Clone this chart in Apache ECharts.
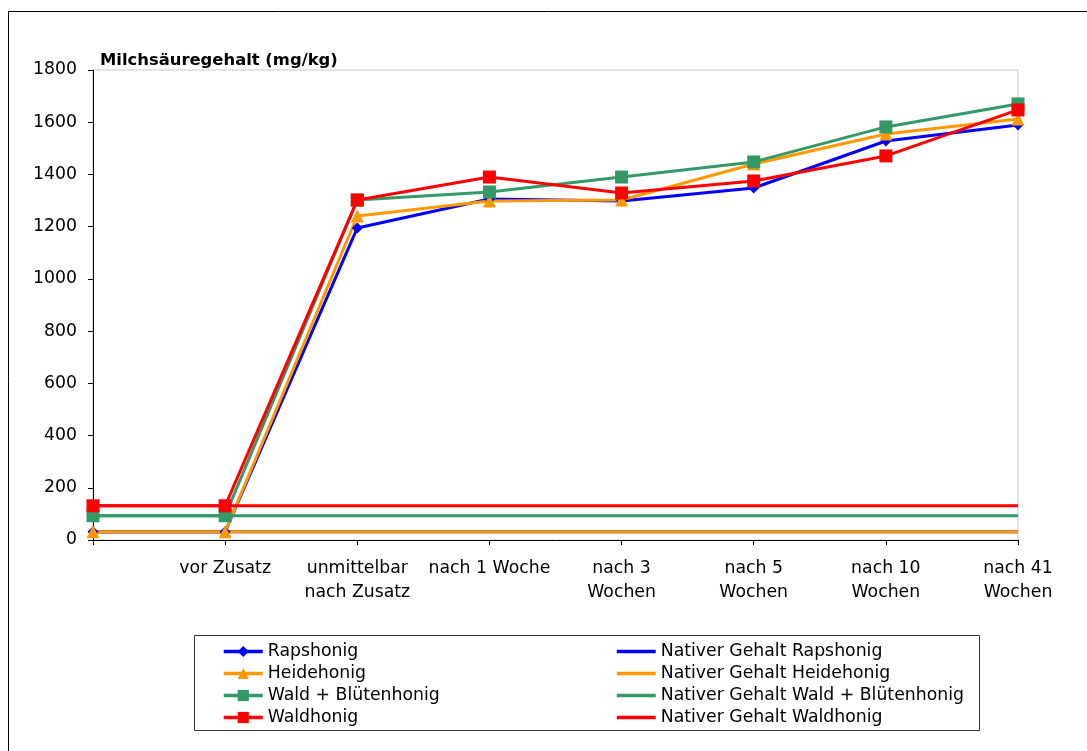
<!DOCTYPE html>
<html>
<head>
<meta charset="utf-8">
<script src="https://cdn.jsdelivr.net/npm/echarts@6/dist/echarts.min.js"></script>
<style>
  html, body { margin: 0; padding: 0; background: #fff; }
  #chart { width: 1087px; height: 751px; }
</style>
</head>
<body>
<div id="chart"></div>
<script>
const categories = ['', 'vor Zusatz', 'unmittelbar\nnach Zusatz', 'nach 1 Woche', 'nach 3\nWochen', 'nach 5\nWochen', 'nach 10\nWochen', 'nach 41\nWochen']

const rapshonig = [32, 32, 1195, 1306, 1298, 1348, 1528, 1589]
const heidehonig = [32, 32, 1241, 1298, 1302, 1440, 1555, 1612]
const waldBluetenhonig = [93, 93, 1302, 1333, 1390, 1448, 1582, 1670]
const waldhonig = [131, 131, 1302, 1390, 1329, 1375, 1471, 1647]

const nativRaps = [32, 32, 32, 32, 32, 32, 32, 32]
const nativHeide = [32, 32, 32, 32, 32, 32, 32, 32]
const nativWaldBlueten = [93, 93, 93, 93, 93, 93, 93, 93]
const nativWald = [131, 131, 131, 131, 131, 131, 131, 131]

const yTicks = { min: 0, max: 1800, interval: 200 }

const font = 'DejaVu Sans, Liberation Sans, sans-serif'
const fontSize = 17.3
const colors = {
  raps: '#0000ff',
  heide: '#ff9900',
  waldBlueten: '#339966',
  wald: '#ff0000'
}

const chart = echarts.init(document.getElementById('chart'))

function markerSeries (name, data, color, symbol, size) {
  return {
    name,
    type: 'line',
    data,
    symbol,
    symbolSize: size,
    lineStyle: { width: 3, color },
    itemStyle: { color },
    emphasis: { disabled: true }
  }
}

function nativeSeries (name, data, color) {
  return {
    name,
    type: 'line',
    data,
    symbol: 'none',
    lineStyle: { width: 3, color },
    itemStyle: { color },
    emphasis: { disabled: true }
  }
}

const legendText = { fontFamily: font, fontSize, color: '#000' }
const hiddenSymbol = { opacity: 0 }

chart.setOption({
  animation: false,
  textStyle: { fontFamily: font },
  title: {
    text: 'Milchsäuregehalt (mg/kg)',
    left: 100,
    top: 53,
    padding: 0,
    textStyle: { fontFamily: font, fontSize: 16.4, fontWeight: 'bold', color: '#000' }
  },
  grid: {
    left: 93,
    right: 69,
    top: 70,
    bottom: 211,
    show: true,
    borderColor: '#c8c8c8',
    borderWidth: 1
  },
  legend: [
    {
      orient: 'vertical',
      left: 222,
      top: 643,
      padding: 0,
      itemWidth: 39,
      itemHeight: 14,
      itemGap: 5,
      lineStyle: { width: 3.5 },
      textStyle: legendText,
      selectedMode: false,
      data: ['Rapshonig', 'Heidehonig', 'Wald + Blütenhonig', 'Waldhonig']
    },
    {
      orient: 'vertical',
      left: 615,
      top: 643,
      padding: 0,
      itemWidth: 39,
      itemHeight: 14,
      itemGap: 5,
      lineStyle: { width: 3.5 },
      textStyle: legendText,
      selectedMode: false,
      data: [
        { name: 'Nativer Gehalt Rapshonig', itemStyle: hiddenSymbol },
        { name: 'Nativer Gehalt Heidehonig', itemStyle: hiddenSymbol },
        { name: 'Nativer Gehalt Wald + Blütenhonig', itemStyle: hiddenSymbol },
        { name: 'Nativer Gehalt Waldhonig', itemStyle: hiddenSymbol }
      ]
    }
  ],
  xAxis: {
    type: 'category',
    data: categories,
    boundaryGap: false,
    axisLine: { lineStyle: { color: '#000', width: 1 } },
    axisTick: { show: true, length: 5, inside: false, alignWithLabel: true, lineStyle: { color: '#000' } },
    axisLabel: { interval: 0, fontFamily: font, fontSize, color: '#000', lineHeight: 24, margin: 17 },
    splitLine: { show: false }
  },
  yAxis: {
    type: 'value',
    min: yTicks.min,
    max: yTicks.max,
    interval: yTicks.interval,
    axisLine: { show: true, lineStyle: { color: '#000', width: 1 } },
    axisTick: { show: true, length: 5, lineStyle: { color: '#000' } },
    axisLabel: { fontFamily: font, fontSize, color: '#000', margin: 16, formatter: v => String(v) },
    splitLine: { show: false }
  },
  series: [
    markerSeries('Rapshonig', rapshonig, colors.raps, 'diamond', 11),
    markerSeries('Heidehonig', heidehonig, colors.heide, 'triangle', 13),
    markerSeries('Wald + Blütenhonig', waldBluetenhonig, colors.waldBlueten, 'rect', 13),
    markerSeries('Waldhonig', waldhonig, colors.wald, 'rect', 13),
    nativeSeries('Nativer Gehalt Rapshonig', nativRaps, colors.raps),
    nativeSeries('Nativer Gehalt Heidehonig', nativHeide, colors.heide),
    nativeSeries('Nativer Gehalt Wald + Blütenhonig', nativWaldBlueten, colors.waldBlueten),
    nativeSeries('Nativer Gehalt Waldhonig', nativWald, colors.wald)
  ],
  graphic: [
    {
      type: 'rect',
      shape: { x: 8.5, y: 11.5, width: 1100, height: 760 },
      style: { fill: 'none', stroke: '#000', lineWidth: 1 },
      silent: true
    },
    {
      type: 'rect',
      shape: { x: 194.5, y: 635.5, width: 785, height: 95 },
      style: { fill: 'none', stroke: '#333', lineWidth: 1 },
      silent: true
    }
  ]
})

window.addEventListener('resize', () => {
  chart.resize()
})
</script>
</body>
</html>
